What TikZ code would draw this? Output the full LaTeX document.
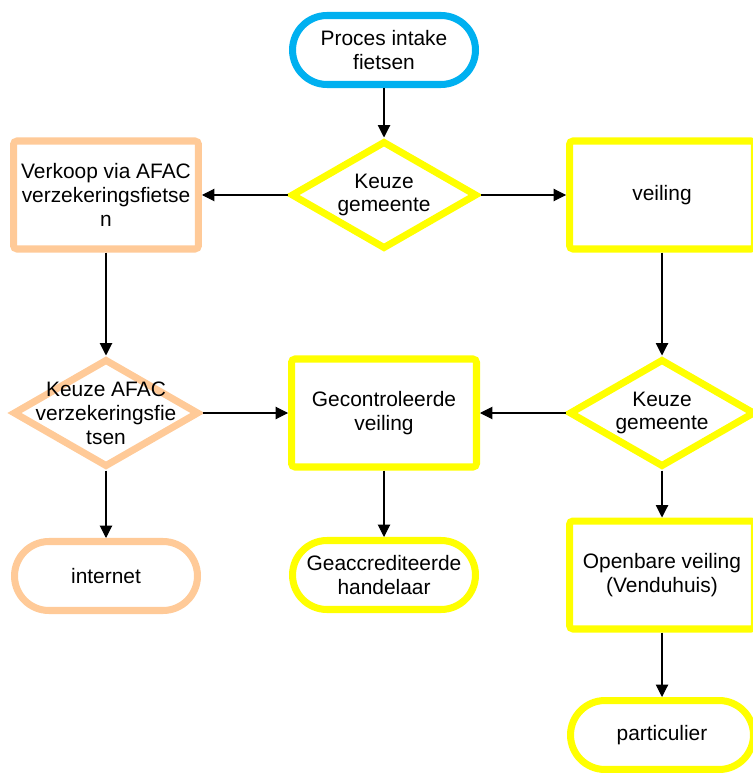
\documentclass[tikz,border=0pt]{standalone}
\usepackage{fontspec}
\setmainfont{Liberation Sans}
\usepackage{tikz}
\usetikzlibrary{shapes.geometric,arrows.meta}

\definecolor{blauw}{RGB}{0,176,240}
\definecolor{geel}{RGB}{255,255,0}
\definecolor{zalm}{RGB}{255,202,152}

\begin{document}
\begin{tikzpicture}[x=0.02cm,y=-0.02cm]
	    \tikzstyle{every node}=[font=\fontsize{11.9pt}{13.6pt}\selectfont,align=center]
	    \tikzstyle{term}=[rectangle,draw,line width=4pt,rounded corners=0.69cm,minimum width=3.66cm,minimum height=1.38cm]
	    \tikzstyle{blok}=[rectangle,draw,line width=4pt,rounded corners=2pt,minimum width=3.7cm,minimum height=2.16cm]
	    \tikzstyle{keuze}=[diamond,draw,line width=4pt,inner sep=0pt,minimum width=3.72cm,minimum height=2.16cm]
	    \tikzstyle{pijl}=[-{Triangle[length=7pt,width=7pt]},line width=0.6pt]
	    \useasboundingbox (0,0) rectangle (752,773);
	    \node[term,draw=blauw] (start) at (384,50) {Proces intake\\fietsen};
	    \node[keuze,draw=geel,label={[align=center]center:Keuze\\gemeente}] (kg1) at (384,195) {};
	    \node[blok,draw=zalm] (verkoop) at (106,195) {Verkoop via AFAC\\verzekeringsfietse\\n};
	    \node[blok,draw=geel] (veiling) at (662,195) {veiling};
	    \node[keuze,draw=zalm,label={[align=center]center:Keuze AFAC\\verzekeringsfie\\tsen}] (afac) at (106,413) {};
	    \node[blok,draw=geel] (gecontr) at (384,413) {Gecontroleerde\\veiling};
	    \node[keuze,draw=geel,label={[align=center]center:Keuze\\gemeente}] (kg2) at (662,413) {};
	    \node[term,draw=zalm] (internet) at (106,576) {internet};
	    \node[term,draw=geel] (handelaar) at (384,575) {Geaccrediteerde\\handelaar};
	    \node[blok,draw=geel] (openbaar) at (662,575) {Openbare veiling\\(Venduhuis)};
	    \node[term,draw=geel] (part) at (662,735) {particulier};
	    \draw[pijl] (start) -- (kg1);
	    \draw[pijl] (kg1) -- (verkoop);
	    \draw[pijl] (kg1) -- (veiling);
	    \draw[pijl] (verkoop) -- (afac);
	    \draw[pijl] (afac) -- (gecontr);
	    \draw[pijl] (veiling) -- (kg2);
	    \draw[pijl] (kg2) -- (gecontr);
	    \draw[pijl] (gecontr) -- (handelaar);
	    \draw[pijl] (afac) -- (internet);
	    \draw[pijl] (kg2) -- (openbaar);
	    \draw[pijl] (openbaar) -- (part);
\end{tikzpicture}
\end{document}
